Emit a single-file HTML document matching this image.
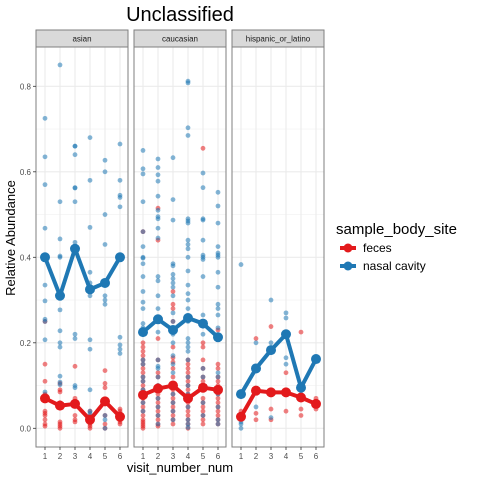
<!DOCTYPE html>
<html><head><meta charset="utf-8"><style>
body{margin:0;background:#fff}
svg text{font-family:"Liberation Sans",sans-serif}
</style></head><body>
<svg id="c" width="480" height="480" xmlns="http://www.w3.org/2000/svg">
<text x="180" y="21" font-size="20" text-anchor="middle" fill="#000">Unclassified</text>
<text transform="translate(15,238) rotate(-90)" font-size="13" text-anchor="middle" fill="#000">Relative Abundance</text>
<text x="180" y="472" font-size="13" text-anchor="middle" fill="#000">visit_number_num</text>
<g>
<text x="336" y="234" font-size="15" fill="#000">sample_body_site</text>
<g><line x1="340" y1="248" x2="356" y2="248" stroke="#e31a1c" stroke-width="4"/><circle cx="348" cy="248" r="4.5" fill="#e31a1c"/><text x="363" y="252" font-size="12">feces</text></g>
<g><line x1="340" y1="266" x2="356" y2="266" stroke="#1f78b4" stroke-width="4"/><circle cx="348" cy="266" r="4.5" fill="#1f78b4"/><text x="363" y="270" font-size="12">nasal cavity</text></g>
</g>
<g id="plots"></g>
</svg>
<script>
const facets=["asian","caucasian","hispanic_or_latino"];
const visits=[1,2,3,4,5,6];
const yTicks=[0,0.2,0.4,0.6,0.8];
const yTickLabels=["0.0","0.2","0.4","0.6","0.8"];
const meanBlue=[[.40,.31,.42,.325,.34,.40],[.225,.255,.23,.258,.245,.213],[.08,.14,.183,.22,.095,.162]];
const meanRed=[[.07,.053,.057,.02,.063,.027],[.078,.093,.10,.07,.095,.09],[.027,.088,.084,.084,.072,.057]];
const ptsBlue=[
[[.725,.635,.57,.468,.405,.40,.335,.298,.255,.25,.207,.085],[.85,.53,.443,.403,.40,.315,.277,.228,.2,.19,.122,.108,.102],[.66,.66,.64,.563,.562,.53,.435,.22,.21,.1,.095],[.68,.58,.47,.365,.34,.31,.207,.185,.09,.04,.035],[.627,.60,.50,.43,.31,.30,.29,.03,.02,0],[.665,.58,.545,.54,.518,.40,.213,.195,.185,.175]],
[[.65,.607,.595,.53,.46,.425,.40,.398,.385,.355,.32,.295,.28,.245,.235,.16,.15,.12,.11,.09,.06,.04],[.63,.61,.593,.578,.543,.51,.495,.49,.468,.445,.355,.345,.31,.28,.255,.225,.16,.145,.14,.12,.1,.07,.05,.03,.01],[.633,.535,.487,.385,.38,.36,.35,.34,.33,.31,.27,.25,.22,.2,.17,.15,.13,.1,.08,.06,.04,.02],[.812,.808,.703,.685,.49,.485,.48,.44,.43,.42,.40,.368,.335,.315,.3,.28,.25,.21,.2,.19,.18,.16,.12,.1,.08,.05,.02,.01,.002],[.597,.563,.49,.487,.44,.405,.395,.40,.355,.265,.24,.22,.14,.12,.09,.06,.03],[.552,.52,.48,.425,.41,.405,.40,.365,.33,.29,.28,.265,.235,.13,.12,.08,.05,.02,.01]],
[[.383,0,.01,.015],[.2,.05],[.3,.2,.025],[.27,.258,.165,.15],[],[]]
];
const ptsRed=[
[[.25,.15,.11,.08,.04,.035,.03,.02,.01,.005],[.105,.09,.085,.06,.05,.015,.01,0,.005],[.145,.07,.06,.03,.02,.015],[.04,.03,.02,.01,0,.005],[.135,.105,.095,.06,.03,.01,0],[.045,.04,.035,.02,.015,.01]],
[[.46,.2,.19,.18,.17,.16,.15,.14,.13,.12,.11,.1,.09,.08,.07,.06,.05,.04,.03,.02,.015,.01,.005,0],[.515,.44,.21,.16,.13,.12,.1,.09,.08,.07,.06,.05,.04,.03,.02,.01,.005],[.32,.29,.28,.25,.19,.165,.155,.14,.12,.1,.09,.08,.07,.06,.05,.04,.03,.02,.01],[.16,.15,.14,.13,.12,.11,.1,.09,.08,.07,.06,.05,.04,.03,.02,.01,0],[.655,.2,.19,.16,.14,.12,.11,.09,.07,.06,.05,.04,.03,.02,.01],[.23,.15,.14,.12,.11,.1,.09,.08,.07,.06,.05,.04,.03,.02,.01]],
[[.04,.03],[.21,.035,.02],[.238,.045,.02],[.13,.04],[.225,.045,.03],[.07,.045]]
];
const NS="http://www.w3.org/2000/svg";
const root=document.getElementById('plots');
const panelL=[36,134,232], panelW=92, pTop=47, pBottom=447;
const y=v=>428.3-v*427.5;
function mk(t,a,p){const e=document.createElementNS(NS,t);for(const k in a)e.setAttribute(k,a[k]);(p||root).appendChild(e);return e;}
facets.forEach((f,fi)=>{
  const L=panelL[fi];
  const x=v=>L+9+(v-1)*15;
  const g=mk('g',{});
  
  
  mk('rect',{x:L,y:pTop,width:panelW,height:pBottom-pTop,fill:'#fff'},g);
  for(let m=0.1;m<0.9;m+=0.2) mk('line',{x1:L,x2:L+panelW,y1:y(m),y2:y(m),stroke:'#f0f0f0','stroke-width':0.6},g);
  yTicks.forEach(t=>mk('line',{x1:L,x2:L+panelW,y1:y(t),y2:y(t),stroke:'#ebebeb','stroke-width':1.1},g));
  visits.forEach(v=>mk('line',{x1:x(v),x2:x(v),y1:pTop,y2:pBottom,stroke:'#ebebeb','stroke-width':1.1},g));
  visits.forEach((v,vi)=>{
    ptsRed[fi][vi].forEach(p=>{const c=mk('circle',{cx:x(v),cy:y(p),r:2.4,fill:'#e31a1c','fill-opacity':0.55},g);});
    ptsBlue[fi][vi].forEach(p=>{const c=mk('circle',{cx:x(v),cy:y(p),r:2.4,fill:'#1f78b4','fill-opacity':0.55},g);});
  });
  [[meanRed,'#e31a1c','feces'],[meanBlue,'#1f78b4','nasal-cavity']].forEach(([m,col,nm])=>{
    const pl=mk('polyline',{points:visits.map((v,i)=>x(v)+','+y(m[fi][i])).join(' '),fill:'none',stroke:col,'stroke-width':4,'stroke-linejoin':'round'},g);
    
    
    visits.forEach((v,i)=>{const c=mk('circle',{cx:x(v),cy:y(m[fi][i]),r:5,fill:col},g);});
  });
  mk('rect',{x:L,y:pTop,width:panelW,height:pBottom-pTop,fill:'none',stroke:'#7f7f7f','stroke-width':1},g);
  const s=mk('rect',{x:L,y:30,width:panelW,height:17,fill:'#d9d9d9',stroke:'#7f7f7f','stroke-width':1},g);
  
  
  const st=mk('text',{x:L+panelW/2,y:41.5,'font-size':8,'text-anchor':'middle',fill:'#1a1a1a'},g);st.textContent=f;
  visits.forEach(v=>{
    mk('line',{x1:x(v),x2:x(v),y1:pBottom,y2:pBottom+3,stroke:'#333','stroke-width':0.8},g);
    const t=mk('text',{x:x(v),y:pBottom+12,'font-size':8,'text-anchor':'middle',fill:'#4d4d4d'},g);
    
    
    t.textContent=v;
  });
});
yTicks.forEach((t,i)=>{
  mk('line',{x1:33,x2:36,y1:y(t),y2:y(t),stroke:'#333','stroke-width':0.8});
  const e=mk('text',{x:31,y:y(t)+3,'font-size':8,'text-anchor':'end',fill:'#4d4d4d'});
  
  
  e.textContent=yTickLabels[i];
});
</script>
</body></html>
